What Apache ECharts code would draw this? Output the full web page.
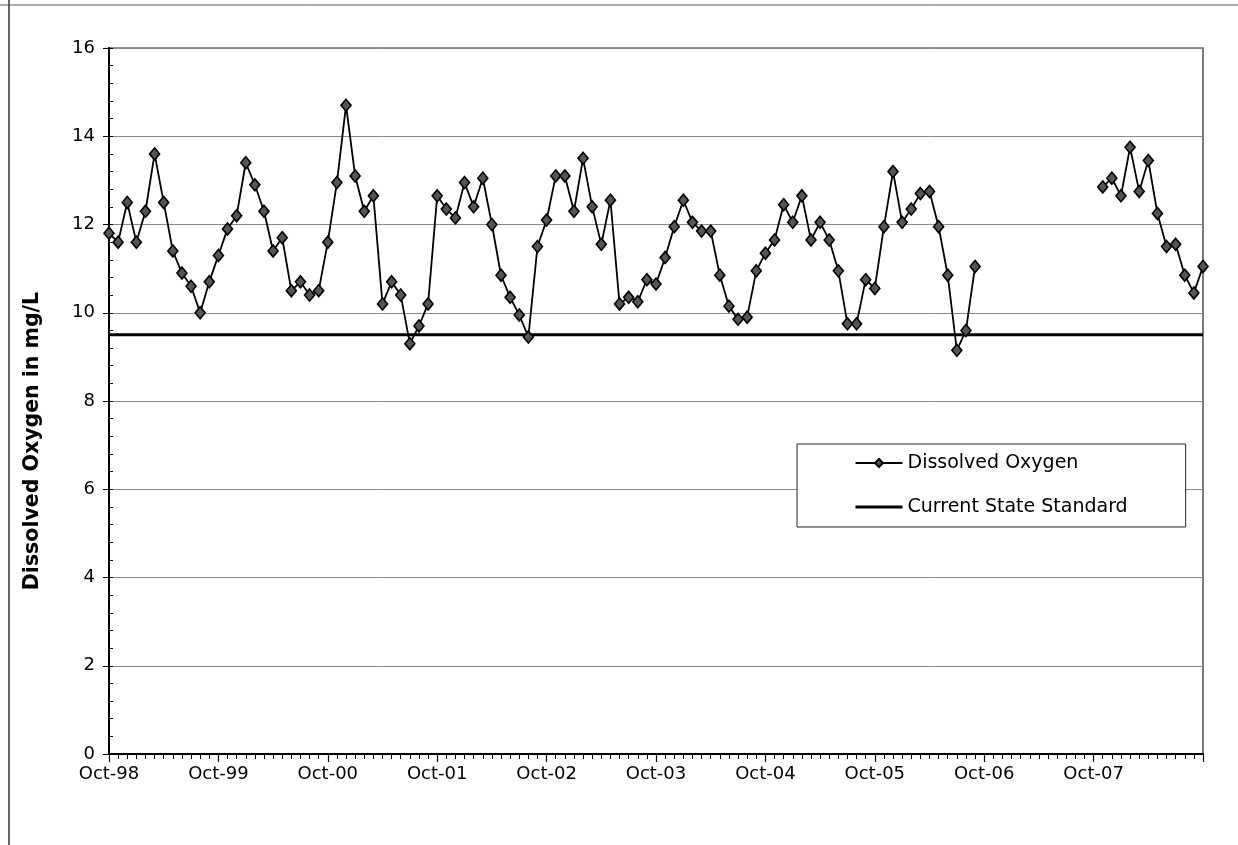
<!DOCTYPE html>
<html><head><meta charset="utf-8">
<script src="https://cdn.jsdelivr.net/npm/echarts@6/dist/echarts.min.js"></script>
<style>html,body{margin:0;padding:0;background:#fff}#c{width:1238px;height:845px}</style>
</head><body><div id="c"></div>
<script>
// Monthly categories Oct-98 .. Oct-08
const monthNames = ['Jan','Feb','Mar','Apr','May','Jun','Jul','Aug','Sep','Oct','Nov','Dec'];
const categories = [];
for (let i = 0; i <= 120; i++) {
  const m = (9 + i) % 12;
  const y = 1998 + Math.floor((9 + i) / 12);
  categories.push(monthNames[m] + '-' + String(y % 100).padStart(2, '0'));
}
const xTickLabels = ['Oct-98','Oct-99','Oct-00','Oct-01','Oct-02','Oct-03','Oct-04','Oct-05','Oct-06','Oct-07'];
const yTicks = [0, 2, 4, 6, 8, 10, 12, 14, 16];

// Dissolved oxygen, mg/L, Oct-98 .. Sep-06
const doWY1999 = [11.8, 11.6, 12.5, 11.6, 12.3, 13.6, 12.5, 11.4, 10.9, 10.6, 10.0, 10.7];
const doWY2000 = [11.3, 11.9, 12.2, 13.4, 12.9, 12.3, 11.4, 11.7, 10.5, 10.7, 10.4, 10.5];
const doWY2001 = [11.6, 12.95, 14.7, 13.1, 12.3, 12.65, 10.2, 10.7, 10.4, 9.3, 9.7, 10.2];
const doWY2002 = [12.65, 12.35, 12.15, 12.95, 12.4, 13.05, 12.0, 10.85, 10.35, 9.95, 9.45, 11.5];
const doWY2003 = [12.1, 13.1, 13.1, 12.3, 13.5, 12.4, 11.55, 12.55, 10.2, 10.35, 10.25, 10.75];
const doWY2004 = [10.65, 11.25, 11.95, 12.55, 12.05, 11.85, 11.85, 10.85, 10.15, 9.85, 9.9, 10.95];
const doWY2005 = [11.35, 11.65, 12.45, 12.05, 12.65, 11.65, 12.05, 11.65, 10.95, 9.75, 9.75, 10.75];
const doWY2006 = [10.55, 11.95, 13.2, 12.05, 12.35, 12.7, 12.75, 11.95, 10.85, 9.15, 9.6, 11.05];
// Oct-06 .. Oct-07: no samples
const doGap = [null, null, null, null, null, null, null, null, null, null, null, null, null];
// Nov-07 .. Oct-08
const doWY2008 = [12.85, 13.05, 12.65, 13.75, 12.75, 13.45, 12.25, 11.5, 11.55, 10.85, 10.45, 11.05];
const dissolvedOxygen = [].concat(doWY1999, doWY2000, doWY2001, doWY2002, doWY2003, doWY2004, doWY2005, doWY2006, doGap, doWY2008);

const stateStandard = 9.5;
const standardLine = categories.map(() => stateStandard);

const FONT = 'DejaVu Sans';
const chart = echarts.init(document.getElementById('c'), null, {renderer: 'canvas'});
chart.setOption({
  backgroundColor: '#ffffff',
  animation: false,
  textStyle: {fontFamily: FONT, color: '#000'},
  grid: {left: 109, right: 35, top: 48, bottom: 91, show: true, borderColor: '#222', borderWidth: 1.2, backgroundColor: 'transparent'},
  legend: {
    orient: 'vertical', left: 797, top: 444,
    padding: [8, 58, 9, 57], itemGap: 22,
    itemWidth: 47, itemHeight: 10,
    borderColor: '#222', borderWidth: 1, backgroundColor: '#fff',
    textStyle: {fontFamily: FONT, fontSize: 19, color: '#000', lineHeight: 22},
    data: [
      {name: 'Dissolved Oxygen'},
      {name: 'Current State Standard', itemStyle: {opacity: 0}, lineStyle: {width: 3, color: '#000'}}
    ]
  },
  xAxis: [{
    type: 'category', data: categories, boundaryGap: false,
    axisLine: {lineStyle: {color: '#000', width: 2}},
    axisTick: {interval: 0, length: 5, lineStyle: {color: '#000', width: 1}},
    axisLabel: {
      interval: (i, v) => xTickLabels.indexOf(v) >= 0,
      margin: 11, fontSize: 18, fontFamily: FONT, color: '#000'
    },
    splitLine: {show: false}
  }, {
    type: 'category', data: categories, boundaryGap: false, position: 'bottom',
    axisLine: {show: false},
    axisTick: {interval: 11, length: 8, lineStyle: {color: '#000', width: 1.2}},
    axisLabel: {show: false}, splitLine: {show: false}
  }],
  yAxis: [{
    type: 'value', min: 0, max: 16, interval: 2,
    name: 'Dissolved Oxygen in mg/L', nameLocation: 'middle', nameGap: 66, nameRotate: 90,
    nameTextStyle: {fontFamily: FONT, fontWeight: 'bold', fontSize: 20.5, color: '#000', padding: [0, 80, 0, 0]},
    axisLine: {show: true, lineStyle: {color: '#000', width: 2}},
    axisTick: {show: true, length: 6, lineStyle: {color: '#000', width: 1}},
    axisLabel: {margin: 14, fontSize: 18, fontFamily: FONT, color: '#000',
      formatter: (v) => yTicks.indexOf(v) >= 0 ? String(v) : ''},
    splitLine: {show: true, lineStyle: {color: '#8a8a8a', width: 1}}
  }, {
    type: 'value', min: 0, max: 16, interval: 0.4, position: 'left',
    axisLine: {show: false},
    axisTick: {show: true, inside: true, length: 4, lineStyle: {color: '#000', width: 1}},
    axisLabel: {show: false}, splitLine: {show: false}
  }],
  graphic: [
    {type: 'line', shape: {x1: 0, y1: 5, x2: 1238, y2: 5}, style: {stroke: '#555', lineWidth: 1}, silent: true},
    {type: 'line', shape: {x1: 9, y1: 0, x2: 9, y2: 845}, style: {stroke: '#333', lineWidth: 1.5}, silent: true}
  ],
  series: [{
    name: 'Current State Standard', type: 'line', data: standardLine,
    symbol: 'none', lineStyle: {color: '#000', width: 3}, itemStyle: {color: '#000'}, z: 2
  }, {
    name: 'Dissolved Oxygen', type: 'line', data: dissolvedOxygen, connectNulls: false,
    symbol: 'diamond', symbolSize: [10, 12], showAllSymbol: true,
    lineStyle: {color: '#000', width: 1.8},
    itemStyle: {color: '#555', borderColor: '#000', borderWidth: 1.6}, z: 3
  }]
});
</script>
</body></html>
